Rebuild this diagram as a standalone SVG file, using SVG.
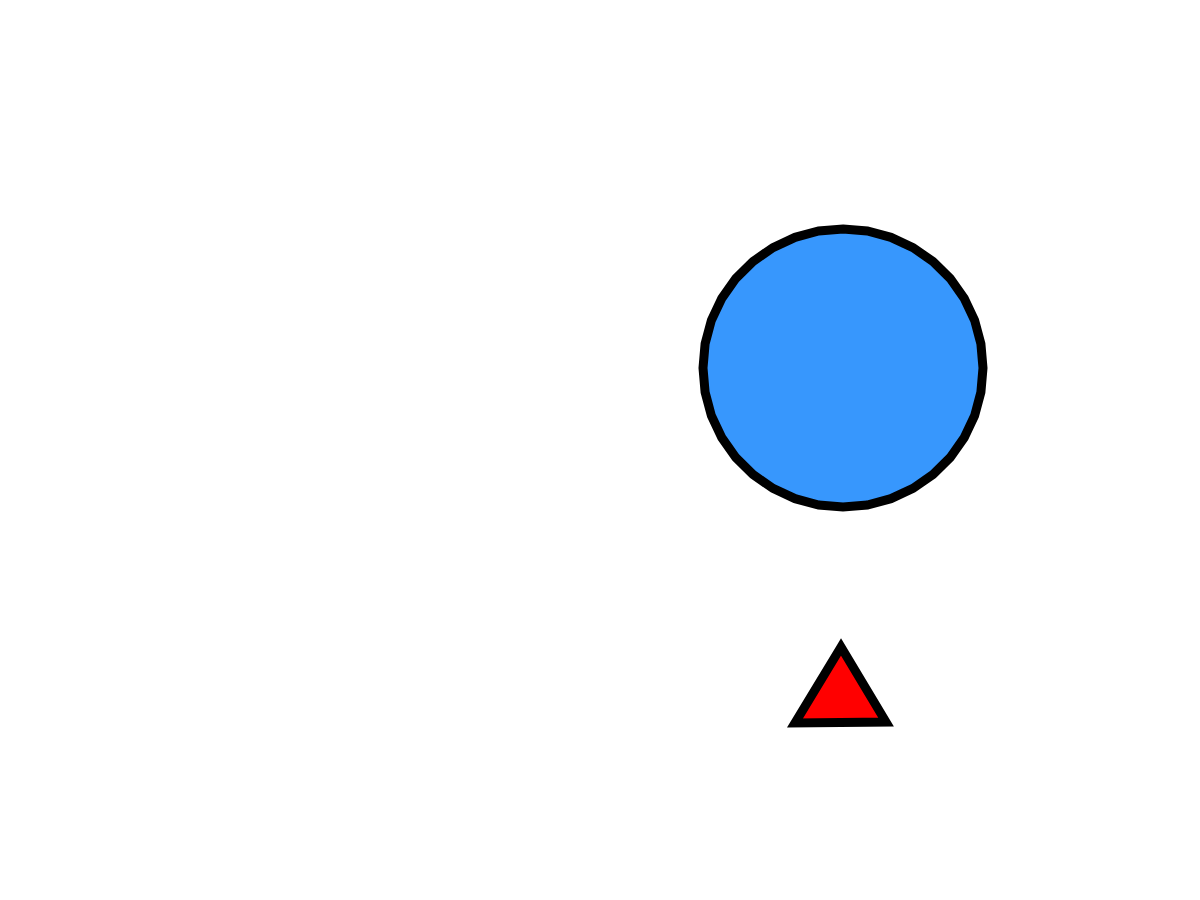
<svg xmlns="http://www.w3.org/2000/svg" width="1200" height="900" viewBox="0 0 1200 900">
<style>
.shape{stroke:#000;stroke-width:9;stroke-linejoin:miter}
</style>
<rect width="1200" height="900" fill="#fff"/>
<g id="circle"><polygon class="shape" fill="#3797FD" points="843,229 867.3,231 890.9,237.3 913,247.6 933,261.5 950.2,278.5 964.2,298.3 974.6,320.2 980.9,343.8 983,368 980.9,392.2 974.6,415.8 964.2,437.7 950.2,457.5 933,474.5 913,488.4 890.9,498.7 867.3,505 843,507 818.7,505 795.1,498.7 773,488.4 753,474.5 735.8,457.5 721.8,437.7 711.4,415.8 705.1,392.2 703,368 705.1,343.8 711.4,320.2 721.8,298.3 735.8,278.5 753,261.5 773,247.6 795.1,237.3 818.7,231"/></g>
<g id="triangle"><polygon class="shape" points="841,647 795,723 886,722" fill="#FF0000"/></g>
<g id="connectors"></g>
</svg>
